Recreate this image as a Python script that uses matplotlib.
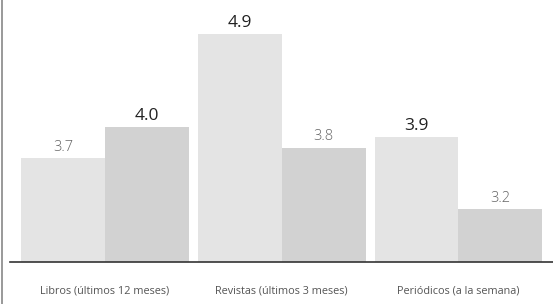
import matplotlib.pyplot as plt
import numpy as np

categories = ['Libros (últimos 12 meses)', 'Revistas (últimos 3 meses)', 'Periódicos (a la semana)']
serie_a = [3.7, 4.9, 3.9]
serie_b = [4.0, 3.8, 3.2]

fig = plt.figure(figsize=(5.53, 3.04), dpi=100)
ax = fig.add_axes([0.018, 0.138, 0.982, 0.862])

x = np.arange(len(categories))
w = 0.475
bars_a = ax.bar(x - w / 2, serie_a, width=w, color='#e4e4e4', bottom=0)
bars_b = ax.bar(x + w / 2, serie_b, width=w, color='#d2d2d2')

# the larger value of each pair gets a bold label
for i in range(len(categories)):
    for xpos, val, other in [(x[i] - w / 2, serie_a[i], serie_b[i]), (x[i] + w / 2, serie_b[i], serie_a[i])]:
        if val >= other:
            ax.text(xpos, val + 0.03, f'{val:.1f}', ha='center', va='bottom',
                    fontsize=12.5, color='#222222', family='Open Sans')
        else:
            ax.text(xpos, val + 0.03, f'{val:.1f}', ha='center', va='bottom',
                    fontsize=10.5, color='#666666', family='Open Sans', fontweight='light')

ax.set_ylim(2.69, 5.23)
ax.set_xlim(-0.538, 2.535)
ax.set_yticks([])
ax.set_xticks(x)
ax.set_xticklabels(categories, fontsize=7.8, color='#555555', family='Open Sans')
ax.tick_params(axis='x', length=0, pad=17)
for s in ['top', 'right', 'left']:
    ax.spines[s].set_visible(False)
ax.spines['bottom'].set_color('#333333')
ax.spines['bottom'].set_linewidth(1.2)

# thin frame line at the left edge
fig.add_artist(plt.Line2D([0.004, 0.004], [0.0, 1.0], color='#888888', lw=1.2))

fig.savefig('out.png', dpi=100)
